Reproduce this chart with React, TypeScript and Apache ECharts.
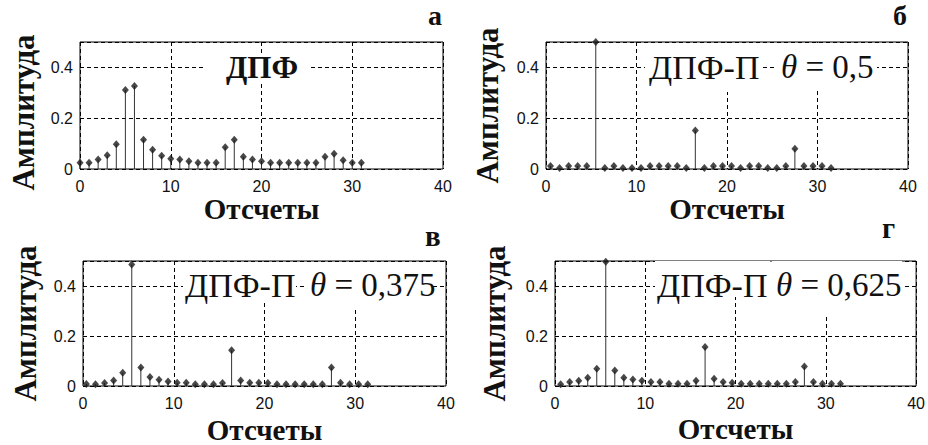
import React, { useEffect, useRef } from "react";
import * as echarts from "echarts";

// sample indices n
const sampleIndex = [
  0, 1, 2, 3, 4, 5, 6, 7, 8, 9, 10, 11, 12, 13, 14, 15,
  16, 17, 18, 19, 20, 21, 22, 23, 24, 25, 26, 27, 28, 29, 30, 31,
];

// (а) ДПФ
const ampDFT = [
  0.025, 0.025, 0.037, 0.054, 0.097, 0.311, 0.327, 0.115, 0.076, 0.052, 0.04, 0.037,
  0.031, 0.025, 0.025, 0.025, 0.086, 0.115, 0.048, 0.037, 0.031, 0.025, 0.025, 0.025,
  0.025, 0.025, 0.025, 0.048, 0.06, 0.034, 0.025, 0.025,
];
// (б) ДПФ-П, θ = 0,5
const thetaB = 0.5;
const ampThetaB = [
  0.012, 0.004, 0.012, 0.012, 0.012, 0.5, 0.004, 0.012, 0.004, 0.004, 0.004, 0.012,
  0.012, 0.012, 0.012, 0.004, 0.152, 0.004, 0.012, 0.012, 0.012, 0.004, 0.012, 0.012,
  0.004, 0.004, 0.012, 0.08, 0.012, 0.012, 0.012, 0.004,
];
// (в) ДПФ-П, θ = 0,375
const thetaV = 0.375;
const ampThetaV = [
  0.008, 0.007, 0.012, 0.022, 0.053, 0.486, 0.074, 0.036, 0.025, 0.018, 0.013, 0.013,
  0.007, 0.007, 0.007, 0.012, 0.143, 0.022, 0.013, 0.013, 0.012, 0.007, 0.007, 0.007,
  0.007, 0.007, 0.007, 0.074, 0.013, 0.007, 0.007, 0.007,
];
// (г) ДПФ-П, θ = 0,625
const thetaG = 0.625;
const ampThetaG = [
  0.007, 0.016, 0.021, 0.033, 0.069, 0.497, 0.062, 0.033, 0.026, 0.021, 0.016, 0.016,
  0.009, 0.009, 0.009, 0.021, 0.156, 0.029, 0.016, 0.013, 0.009, 0.009, 0.009, 0.009,
  0.009, 0.009, 0.016, 0.078, 0.016, 0.009, 0.009, 0.009,
];

const xAxisTitle = "Отсчеты";
const yAxisTitle = "Амплитуда";
const panelLetters = ["а", "б", "в", "г"];

const SERIF = "'Liberation Serif', 'Times New Roman', serif";
const SANS = "'Liberation Sans', Arial, sans-serif";

export default function App() {
  const ref = useRef<HTMLDivElement>(null);

  useEffect(() => {
    if (!ref.current) return;
    const chart = echarts.init(ref.current, null, { renderer: "svg" });

    const panels = [
      { amp: ampDFT, theta: 0, grid: { left: 80, top: 42, width: 363, height: 127 } },
      { amp: ampThetaB, theta: thetaB, grid: { left: 546, top: 42, width: 362, height: 127 } },
      { amp: ampThetaV, theta: thetaV, grid: { left: 83, top: 261, width: 363, height: 126 } },
      { amp: ampThetaG, theta: thetaG, grid: { left: 555, top: 261, width: 362, height: 125 } },
    ];
    const nameGapsY = [41, 43, 42, 45];
    const nameGapsX = [25, 25, 29, 28];
    const namePadY = [[0, 14, 0, 0], [0, 0, 0, 0], [0, 0, 0, 0], [0, 0, 0, 0]];

    const grid = panels.map((p) => ({
      ...p.grid,
      show: true,
      borderColor: "#000",
      borderWidth: 1,
      backgroundColor: "#fff",
    }));

    const dashed = { show: true, lineStyle: { color: "#000", type: [4, 3] as any, width: 1 } };

    const xAxis = panels.map((_, i) => ({
      type: "value" as const,
      gridIndex: i,
      min: 0,
      max: 40,
      interval: 10,
      axisLine: { show: false },
      axisTick: { show: false },
      axisLabel: { color: "#111", fontFamily: SANS, fontSize: 16, margin: 9 },
      splitLine: dashed,
      name: xAxisTitle,
      nameLocation: "middle" as const,
      nameGap: nameGapsX[i],
      nameTextStyle: { fontFamily: SERIF, fontWeight: "bold" as const, fontSize: 29, color: "#111" },
    }));

    const yAxis = panels.map((_, i) => ({
      type: "value" as const,
      gridIndex: i,
      min: 0,
      max: 0.5,
      interval: 0.2,
      axisLine: { show: false },
      axisTick: { show: false },
      axisLabel: { color: "#111", fontFamily: SANS, fontSize: 16, margin: 7, showMaxLabel: false },
      splitLine: dashed,
      name: yAxisTitle,
      nameLocation: "middle" as const,
      nameRotate: 90,
      nameGap: nameGapsY[i],
      nameTextStyle: {
        fontFamily: SERIF,
        fontWeight: "bold" as const,
        fontSize: 31,
        color: "#111",
        padding: namePadY[i],
      },
    }));

    const series: any[] = [];
    panels.forEach((p, i) => {
      const data = sampleIndex.map((n, k) => [n + p.theta, p.amp[k]]);
      series.push({
        type: "custom",
        xAxisIndex: i,
        yAxisIndex: i,
        data,
        z: 3,
        renderItem: (_params: any, api: any) => {
          const x = api.value(0);
          const y = api.value(1);
          const p0 = api.coord([x, 0]);
          const p1 = api.coord([x, y]);
          return {
            type: "line",
            shape: { x1: p0[0], y1: p0[1], x2: p1[0], y2: p1[1] },
            style: { stroke: "#333", lineWidth: 1 },
          };
        },
      });
      series.push({
        type: "scatter",
        xAxisIndex: i,
        yAxisIndex: i,
        data,
        z: 4,
        symbol: "diamond",
        symbolSize: [7, 8],
        itemStyle: { color: "#1a1a1a" },
      });
    });

    const white = (x: number, y: number, w: number, h: number) => ({
      type: "rect",
      shape: { x, y, width: w, height: h },
      style: { fill: "#fff" },
      z: 100,
    });
    const label = (
      x: number,
      y: number,
      text: string,
      size: number,
      bold: boolean,
      vAlign: string = "middle"
    ) => ({
      type: "text",
      x,
      y,
      z: 101,
      style: {
        text,
        fontFamily: SERIF,
        fontSize: size,
        fontWeight: bold ? "bold" : "normal",
        fill: "#111",
        textAlign: "left",
        textVerticalAlign: vAlign,
      },
    });
    const thetaLabel = (x: number, y: number, value: string) => ({
      type: "text",
      x,
      y,
      z: 101,
      style: {
        text: `{t|θ}{n| = ${value}}`,
        textAlign: "left",
        textVerticalAlign: "middle",
        rich: {
          t: { fontFamily: SERIF, fontStyle: "italic", fontSize: 33, fill: "#111" },
          n: { fontFamily: SERIF, fontSize: 33, fill: "#111" },
        },
      },
    });

    const graphic: any[] = [
      // panel letters
      label(428, 1, panelLetters[0], 28, true, "top"),
      label(893, 1, panelLetters[1], 28, true, "top"),
      label(425, 236, panelLetters[2], 29, true),
      label(882, 228, panelLetters[3], 29, true),
      // (а)
      white(203, 53, 105, 29),
      label(226, 67, "ДПФ", 31, true),
      // (б)
      white(645, 43, 117, 49),
      label(649, 67, "ДПФ-П", 34, false),
      white(776, 43, 101, 47),
      thetaLabel(781, 67, "0,5"),
      // (в)
      white(183, 262, 113, 38),
      label(185, 285, "ДПФ-П", 34, false),
      white(305, 262, 128, 45),
      thetaLabel(310, 285, "0,375"),
      // (г)
      white(655, 261, 115, 36),
      label(657, 285, "ДПФ-П", 34, false),
      white(772, 261, 130, 53),
      thetaLabel(776, 285, "0,625"),
    ];

    chart.setOption({
      animation: false,
      backgroundColor: "#fff",
      grid,
      xAxis,
      yAxis,
      series,
      graphic,
    });

    return () => chart.dispose();
  }, []);

  return (
    <div
      ref={ref}
      style={{ position: "fixed", left: 0, top: 0, width: 928, height: 445, background: "#fff" }}
    />
  );
}
